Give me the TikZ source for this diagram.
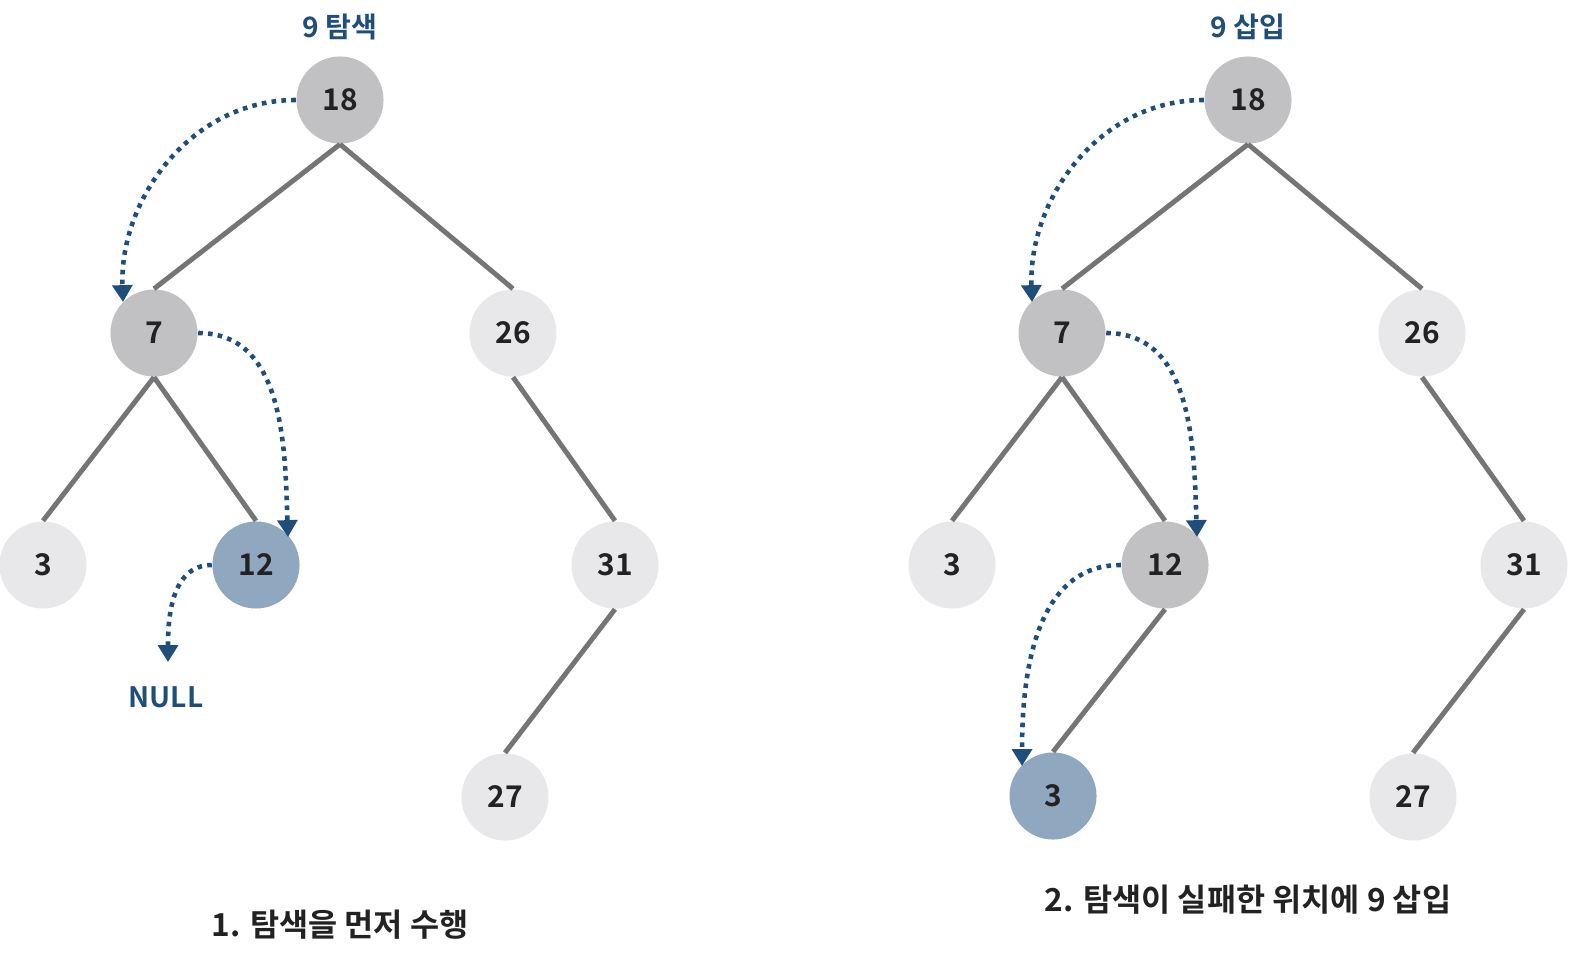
\documentclass[tikz,border=0pt]{standalone}
\usepackage{fontspec}
\setmainfont{Noto Sans CJK KR}[BoldFont={Noto Sans CJK KR Bold}]
\usepackage{tikz}
\usetikzlibrary{arrows.meta}

\definecolor{edgegray}{HTML}{757575}
\definecolor{visited}{HTML}{C1C0C3}
\definecolor{plain}{HTML}{E8E7E9}
\definecolor{found}{HTML}{8FA7BF}
\definecolor{pathblue}{HTML}{1F4E7A}
\definecolor{numtext}{HTML}{222222}

\tikzset{
  key/.style={circle, minimum size=0.87cm, inner sep=0pt, fill=plain,
    font=\fontsize{8.5}{10}\selectfont\bfseries, text=numtext},
  seen/.style={key, fill=visited},
  hit/.style={key, fill=found},
  branch/.style={draw=edgegray, line width=1.4pt},
  probe/.style={draw=pathblue, line width=1.3pt, dash pattern=on 1.3pt off 1.5pt,
    -{Triangle[length=4.8pt,width=5.6pt]}},
  headline/.style={font=\fontsize{8}{10}\selectfont\bfseries, text=pathblue},
  caption/.style={font=\fontsize{9}{11}\selectfont\bfseries, text=numtext}
}

\begin{document}
\begin{tikzpicture}[x=0.01cm,y=-0.01cm]
  \useasboundingbox (0,0) rectangle (1580,970);

  % 1. search first
  \node[headline] (t1) at (340,27) {9 탐색};
  \node[seen] (a18) at (340,100) {18};
  \node[seen] (a7) at (154,333) {7};
  \node[key] (a26) at (513,333) {26};
  \node[key] (a3) at (43,565) {3};
  \node[hit] (a12) at (256,565) {12};
  \node[key] (a31) at (615,565) {31};
  \node[key] (a27) at (505,797) {27};
  \node[headline] (null) at (166,697) {NULL};
  \node[caption] (c1) at (340,925) {1. 탐색을 먼저 수행};

  \foreach \p/\c in {a18/a7, a18/a26, a7/a3, a7/a12, a26/a31, a31/a27}{
    \draw[branch] (\p.south) -- (\c.north);
  }

  \coordinate (a7in) at (123,302);
  \coordinate (a12in) at (288,537);
  \coordinate (nullin) at (168,662);
  \draw[probe] (a18.west) to[out=180,in=92] (a7in);
  \draw[probe] (a7.east) to[out=0,in=92] (a12in);
  \draw[probe] (a12.west) to[out=180,in=90] (nullin);

  % 2. insert 9 where search failed
  \node[headline] (t2) at (1248,27) {9 삽입};
  \node[seen] (b18) at (1248,100) {18};
  \node[seen] (b7) at (1062,333) {7};
  \node[key] (b26) at (1422,333) {26};
  \node[key] (b3) at (952,565) {3};
  \node[seen] (b12) at (1165,565) {12};
  \node[key] (b31) at (1524,565) {31};
  \node[key] (b27) at (1413,797) {27};
  \node[hit] (b9) at (1053,796) {3};
  \node[caption] (c2) at (1248,900) {2. 탐색이 실패한 위치에 9 삽입};

  \foreach \p/\c in {b18/b7, b18/b26, b7/b3, b7/b12, b12/b9, b26/b31, b31/b27}{
    \draw[branch] (\p.south) -- (\c.north);
  }

  \coordinate (b7in) at (1032,302);
  \coordinate (b12in) at (1197,537);
  \coordinate (b9in) at (1022,766);
  \draw[probe] (b18.west) to[out=180,in=92] (b7in);
  \draw[probe] (b7.east) to[out=0,in=92] (b12in);
  \draw[probe] (b12.west) to[out=180,in=90] (b9in);
\end{tikzpicture}
\end{document}
